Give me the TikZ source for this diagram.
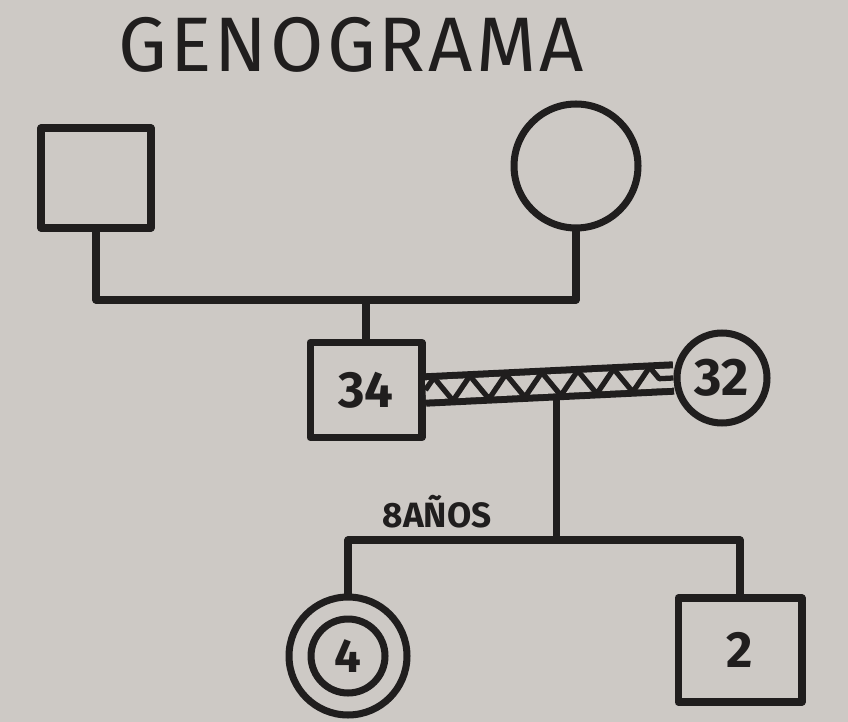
\documentclass[tikz,border=0pt]{standalone}
\usepackage{fontspec}
\setmainfont{Fira Sans}
\usetikzlibrary{decorations.pathmorphing}
\definecolor{paper}{RGB}{205,201,197}
\definecolor{ink}{RGB}{32,30,30}
\tikzset{
  marker/.style={draw=ink, line width=4pt, line cap=round, line join=round},
  male/.style={marker, rectangle, inner sep=0pt, text=ink, font=\bfseries},
  female/.style={marker, circle, inner sep=0pt, text=ink, font=\bfseries},
  link/.style={marker, double=paper, double distance=11pt, line cap=butt},
  conflict/.style={draw=ink, line width=3pt, line join=round, decorate,
    decoration={zigzag, segment length=0.72cm, amplitude=0.24cm}},
}

\begin{document}
\begin{tikzpicture}[x=0.02cm, y=-0.02cm]

  % paper
  \fill[paper] (0,0) rectangle (848,722);
  \useasboundingbox (0,0) rectangle (848,722);

  % title
  \node (titulo) at (351,45) {\fontsize{44}{48}\selectfont\addfontfeature{LetterSpace=4}\color{ink}GENOGRAMA};

  % grandparents
  \node[male, minimum width=2.2cm, minimum height=2.0cm] (padre) at (96,178) {};
  \node[female, minimum size=2.48cm] (madre) at (576,166) {};
  \coordinate (union) at (366,300);
  \draw[marker] (padre.south) |- (union) -| (madre.south);

  % couple
  \node[male, minimum width=2.24cm, minimum height=1.9cm] (hijo) at (366,390) {\fontsize{29}{32}\selectfont 34};
  \node[female, minimum size=1.8cm] (esposa) at (722,378) {\fontsize{30}{34}\selectfont 32};
  \draw[marker] (union) -- (hijo.north);
  \path (hijo.east) -- (esposa.west) coordinate[pos=0.53] (enlace);
  \coordinate (hermanos) at (557,540);
  \draw[marker] (enlace) -- (enlace |- hermanos);
  \draw[link] (hijo.east) -- (esposa.west);
  \draw[conflict] (hijo.east) -- (esposa.west);

  % children
  \node[female, minimum size=2.36cm] (hija) at (348,656) {};
  \node[female, minimum size=1.48cm] (hijain) at (hija) {\fontsize{27}{30}\selectfont 4};
  \node[male, minimum width=2.48cm, minimum height=2.08cm] (nieto) at (740,650) {\fontsize{29}{32}\selectfont 2};
  \draw[marker] (hija.north) |- (hermanos) -| (nieto.north);
  \node[text=ink, anchor=south, font=\bfseries] (edad) at (437,534) {\fontsize{20}{24}\selectfont 8AÑOS};

\end{tikzpicture}
\end{document}
